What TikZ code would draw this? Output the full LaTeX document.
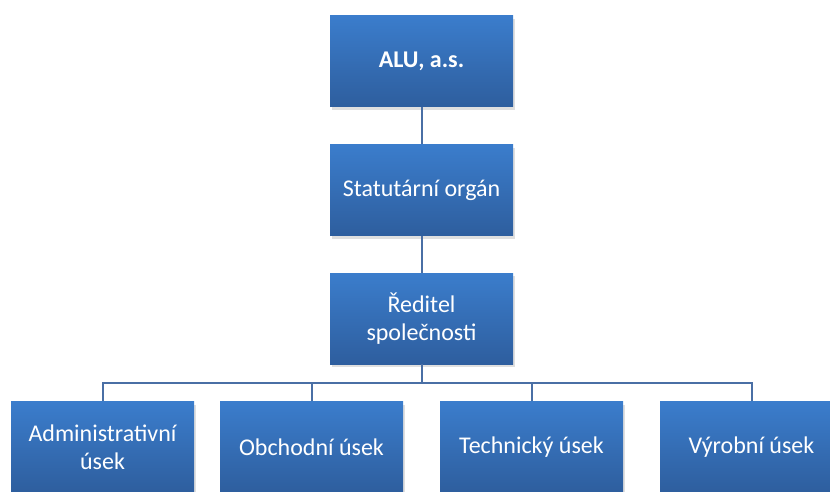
\documentclass[tikz,border=0pt]{standalone}
\usepackage{fontspec}
\setmainfont{Carlito}
\usetikzlibrary{positioning,shadows}

\definecolor{boxtop}{HTML}{3B7DCC}
\definecolor{boxbot}{HTML}{2E5E9E}
\definecolor{linkcol}{HTML}{4A6FA5}

\begin{document}
\begin{tikzpicture}[x=1pt,y=-1pt,
  unit/.style={rectangle, minimum width=183pt, minimum height=91pt,
    top color=boxtop, bottom color=boxbot, text=white, align=center,
    font=\fontsize{24}{28}\selectfont, inner sep=0pt,
    drop shadow={opacity=0.25, shadow xshift=2pt, shadow yshift=-3pt}},
  link/.style={draw=linkcol, line width=2pt}]
\useasboundingbox (0,0) rectangle (830,491);
\clip (0,0) rectangle (830,491);

\def\xm{421.5}
\def\xa{102.5}
\def\xb{311.5}
\def\xc{531.5}
\def\xd{751.5}

\def\ya{61}
\def\yb{190}
\def\yc{318.5}
\def\yd{447}
\def\ybus{383}

\node[unit, font=\fontsize{24}{28}\selectfont\bfseries] (alu) at (\xm, \ya) {ALU, a.s.};
\node[unit] (organ) at (\xm, \yb) {Statutární orgán};
\node[unit] (reditel) at (\xm, \yc) {Ředitel\\společnosti};
\node[unit] (admin) at (\xa, \yd) {Administrativní\\úsek};
\node[unit] (obchod) at (\xb, \yd) {Obchodní úsek};
\node[unit] (tech) at (\xc, \yd) {Technický úsek};
\node[unit] (vyroba) at (\xd, \yd) {Výrobní úsek};
\coordinate (bus) at (\xm, \ybus);

\draw[link] (alu) -- (organ);
\draw[link] (organ) -- (reditel);
\draw[link] (reditel) -- (bus);
\draw[link] (bus) -| (admin);
\draw[link] (bus) -| (obchod);
\draw[link] (bus) -| (tech);
\draw[link] (bus) -| (vyroba);

\end{tikzpicture}
\end{document}
